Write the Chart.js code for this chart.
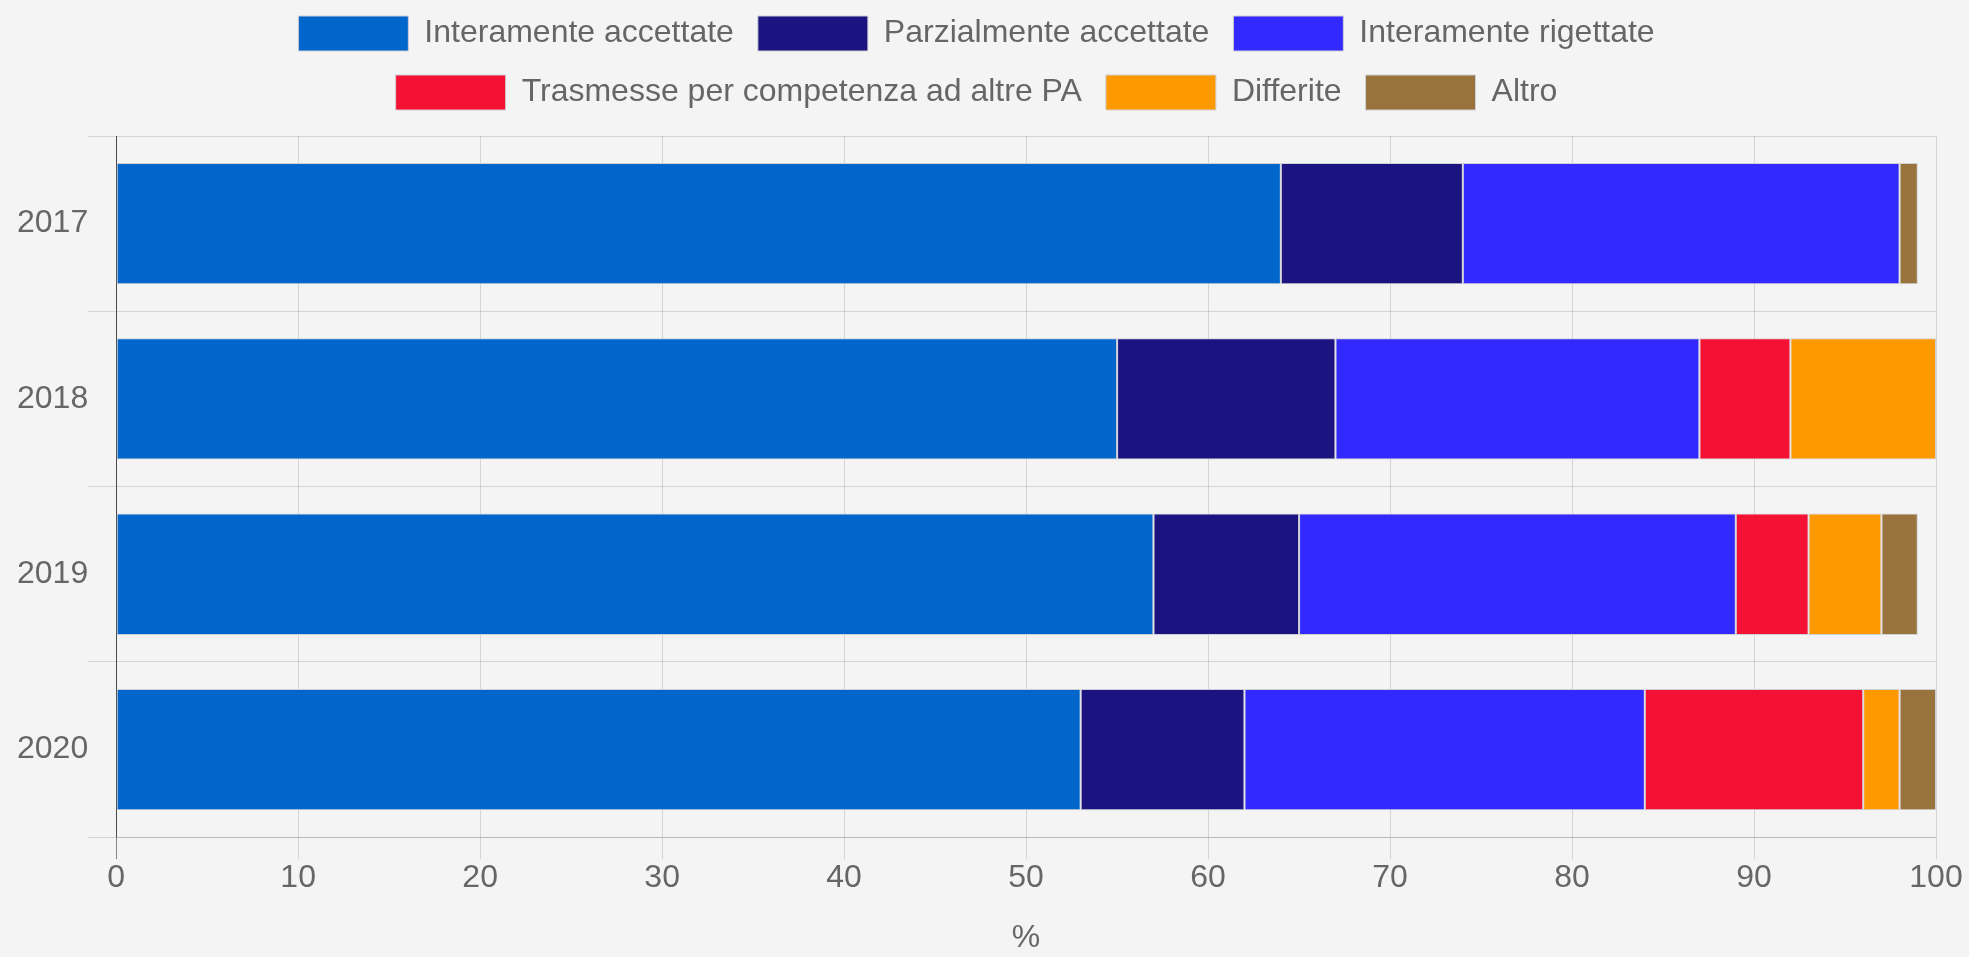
<!DOCTYPE html>
<html>
<head>
<meta charset="utf-8">
<script src="https://cdn.jsdelivr.net/npm/chart.js@4.4.0/dist/chart.umd.min.js"></script>
<style>
  html, body { margin: 0; padding: 0; background: #f4f4f4; }
  #wrap { width: 1969px; height: 957px; }
  canvas { background: #f4f4f4; }
</style>
</head>
<body>
<div id="wrap"><canvas id="chart"></canvas></div>
<script>
const years = ['2017', '2018', '2019', '2020'];

const interamenteAccettate = [64, 55, 57, 53];
const parzialmenteAccettate = [10, 12, 8, 9];
const interamenteRigettate = [24, 20, 24, 22];
const trasmesse = [0, 5, 4, 12];
const differite = [0, 8, 4, 2];
const altro = [1, 0, 2, 2];

const xTicks = [0, 10, 20, 30, 40, 50, 60, 70, 80, 90, 100];

const fontFamily = "'Liberation Sans', Arial, Helvetica, sans-serif";
const textColor = '#666';
const gridColor = 'rgba(0,0,0,0.13)';

// legend sits a bit further from the plot than Chart.js puts it
const legendGap = {
  id: 'legendGap',
  beforeInit(chart) {
    const origFit = chart.legend.fit;
    chart.legend.fit = function () {
      origFit.call(this);
      this.height += 16;
    };
  }
};

const makeSet = (label, data, color) => ({
  label: label,
  data: data,
  backgroundColor: color,
  borderColor: '#cfcfd6',
  borderWidth: 1,
  borderSkipped: false,
  barPercentage: 0.865,
  categoryPercentage: 0.8,
});

new Chart(document.getElementById('chart'), {
  type: 'bar',
  data: {
    labels: years,
    datasets: [
      makeSet('Interamente accettate', interamenteAccettate, '#0066cc'),
      makeSet('Parzialmente accettate', parzialmenteAccettate, '#1a1380'),
      makeSet('Interamente rigettate', interamenteRigettate, '#3229ff'),
      makeSet('Trasmesse per competenza ad altre PA', trasmesse, '#f51133'),
      makeSet('Differite', differite, '#ff9900'),
      makeSet('Altro', altro, '#98743c'),
    ],
  },
  options: {
    indexAxis: 'y',
    responsive: true,
    maintainAspectRatio: false,
    animation: false,
    devicePixelRatio: 1,
    layout: {
      padding: { top: -8, left: 17, right: 33, bottom: 0 },
    },
    font: { family: fontFamily, size: 32 },
    color: textColor,
    plugins: {
      legend: {
        position: 'top',
        labels: {
          boxWidth: 110,
          boxHeight: 35,
          padding: 24,
          color: textColor,
          font: { family: fontFamily, size: 32 },
        },
      },
      tooltip: { enabled: false },
    },
    scales: {
      x: {
        stacked: true,
        min: 0,
        max: 100,
        afterBuildTicks: (axis) => {
          axis.ticks = xTicks.map(v => ({ value: v }));
        },
        grid: {
          color: (ctx) => (ctx.tick && ctx.tick.value === 0 ? 'rgba(0,0,0,0.45)' : gridColor),
          tickLength: 22,
        },
        border: { color: gridColor },
        ticks: {
          padding: 0,
          color: textColor,
          font: { family: fontFamily, size: 32 },
        },
        title: {
          display: true,
          text: '%',
          color: textColor,
          font: { family: fontFamily, size: 32 },
          padding: { top: 21, bottom: 0 },
        },
      },
      y: {
        stacked: true,
        grid: {
          color: gridColor,
          tickLength: 28,
        },
        border: { color: 'rgba(0,0,0,0.45)' },
        ticks: {
          padding: 0,
          color: textColor,
          font: { family: fontFamily, size: 32 },
        },
      },
    },
  },
  plugins: [legendGap],
});
</script>
</body>
</html>
